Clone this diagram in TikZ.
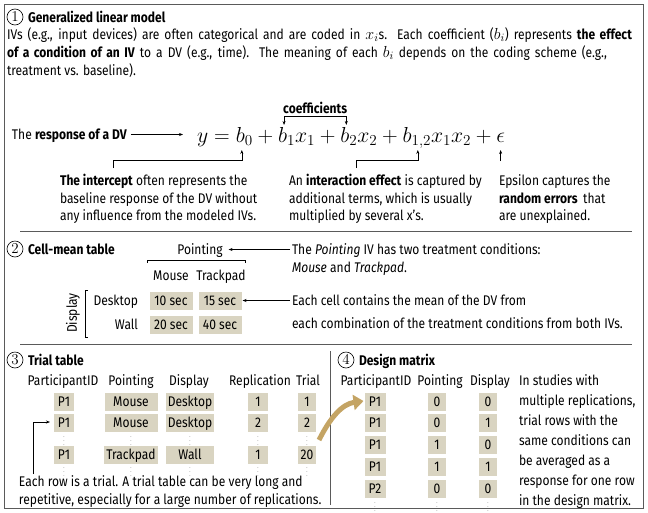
\RequirePackage{fix-cm}
\documentclass[tikz,border=0pt]{standalone}
\usepackage{fontspec}
\setmainfont{Fira Sans}[FakeStretch=0.86]
\usetikzlibrary{arrows.meta,calc}
\definecolor{cellfill}{RGB}{217,212,193}
\definecolor{gold}{RGB}{196,164,100}
\definecolor{frame}{RGB}{90,90,90}
\begin{document}
\begin{tikzpicture}[x=1pt,y=-1pt,
  every node/.style={inner sep=0pt,outer sep=0pt},
  fnt/.style={font=\fontsize{14}{16}\selectfont},
  txt/.style={anchor=base west,fnt},
  ctxt/.style={anchor=base,fnt},
  rtxt/.style={anchor=base east,fnt},
  title/.style={anchor=base west,font=\fontsize{14}{16}\selectfont\bfseries},
  num/.style={draw,circle,line width=0.6pt,minimum size=16pt,font=\fontsize{15}{15}\selectfont},
  cell/.style={fill=cellfill,anchor=base,fnt,inner xsep=2pt,inner ysep=0pt,text depth=5pt,text height=13pt},
  vd/.style={anchor=center,font=\fontsize{6}{6}\selectfont,text=gray},
  eqp/.style={anchor=base west,font=\fontsize{21.7}{21.7}\selectfont},
  conn/.style={line width=0.6pt,-{Stealth[length=4pt,width=3pt]}},
  plain/.style={line width=0.6pt},
  sep/.style={line width=0.8pt,frame}
]
\useasboundingbox (0,0) rectangle (648,512);
\draw[line width=0.8pt,frame] (4,4) rectangle (643,508);

% ---------- section 1
\node[num] (n1) at (15,17) {$1$};
\node[title] (t1) at (28,22) {Generalized linear model};
\node[txt] (p1) at (7,39) {\hbox to 625pt{IVs (e.g., input devices) are often categorical and are coded in {\fontsize{16}{16}\selectfont$x_i$}s. Each coefficient ({\fontsize{16}{16}\selectfont$b_i$}) represents \textbf{the effect}}};
\node[txt] (p2) at (7,57) {\hbox to 600pt{\textbf{of a condition of an IV} to a DV (e.g., time). The meaning of each {\fontsize{16}{16}\selectfont$b_i$} depends on the coding scheme (e.g.,}};
\node[txt] (p3) at (7,75) {treatment vs. baseline).};

% equation built from pieces
\node[eqp] (ey) at (197,142) {$y={}$};
\node[eqp] (eb0) at (ey.base east) {$b_0$};
\node[eqp] (eo1) at (eb0.base east) {${}+{}$};
\node[eqp] (eb1) at (eo1.base east) {$b_1$};
\node[eqp] (ex1) at (eb1.base east) {$x_1{}+{}$};
\node[eqp] (eb2) at (ex1.base east) {$b_2$};
\node[eqp] (ex2) at (eb2.base east) {$x_2{}+{}$};
\node[eqp] (eb12) at (ex2.base east) {$b_{1,2}$};
\node[eqp] (ex12) at (eb12.base east) {$x_1x_2{}+{}$};
\node[eqp] (eeps) at (ex12.base east) {$\epsilon$};

\node[txt] (resp) at (12,139) {The \textbf{response of a DV}};
\draw[conn] ([xshift=4pt,yshift=4.5pt]resp.base east) -- ([xshift=-14pt,yshift=4.5pt]resp.base east -| ey.west);

\coordinate (cb1x) at ([xshift=6pt]eb1.base west);
\coordinate (cb2x) at ([xshift=6pt]eb2.base west);
\coordinate (cb1) at (cb1x |- 0,125);
\coordinate (cb2) at (cb2x |- 0,125);
\node[anchor=base,font=\fontsize{14}{16}\selectfont\bfseries] (coef) at ($(cb1)!0.5!(cb2)+(0,-11.5)$) {coefficients};
\draw[plain] (cb1 |- 0,116) -- (cb2 |- 0,116);
\draw[conn] (cb1 |- 0,116) -- (cb1);
\draw[conn] (cb2 |- 0,116) -- (cb2);

\coordinate (tb0x) at ([xshift=6pt]eb0.base west);
\coordinate (tb12x) at ([xshift=1pt]eb12.base);
\coordinate (tepsx) at (eeps.base);
\coordinate (tb0) at (tb0x |- 0,150);
\coordinate (tb12) at (tb12x |- 0,150);
\coordinate (teps) at (tepsx |- 0,150);
\node[txt] (ic1) at (60,185) {\textbf{The intercept} often represents the};
\node[txt] (ic2) at (60,203) {baseline response of the DV without};
\node[txt] (ic3) at (60,220) {any influence from the modeled IVs.};
\draw[conn] (113,168) -- (113,160) -- (tb0 |- 0,160) -- (tb0);
\node[txt] (ie1) at (289,185) {An \textbf{interaction effect} is captured by};
\node[txt] (ie2) at (289,203) {additional terms, which is usually};
\node[txt] (ie3) at (289,220) {multiplied by several x's.};
\draw[conn] (356,168) -- (356,160) -- (tb12 |- 0,160) -- (tb12);
\node[txt] (ep1) at (499,185) {Epsilon captures the};
\node[txt] (ep2) at (499,203) {\textbf{random errors}\, that};
\node[txt] (ep3) at (499,220) {are unexplained.};
\draw[conn] (teps |- 0,161) -- (teps);

\draw[sep] (20,231) -- (632,231);

% ---------- section 2
\node[num] (n2) at (15,249) {$2$};
\node[title] (t2) at (28,254) {Cell-mean table};
\node[ctxt] (pt) at (200,254) {Pointing};
\draw[plain] (147,263) -- (147,260) -- (245,260) -- (245,263);
\node[ctxt] (mo) at (171,280) {Mouse};
\node[ctxt] (tr) at (221,280) {Trackpad};
\node[rtxt] (dk) at (138,305) {Desktop};
\node[rtxt] (wl) at (138,329) {Wall};
\node[cell,minimum width=43pt] (c11) at (171,305) {10 sec};
\node[cell,minimum width=43pt] (c12) at (220,305) {15 sec};
\node[cell,minimum width=43pt] (c21) at (171,329) {20 sec};
\node[cell,minimum width=43pt] (c22) at (220,329) {40 sec};
\draw[plain] (88,290) -- (85,290) -- (85,337) -- (88,337);
\node[anchor=center,rotate=90,fnt] (disp) at (73,313) {Display};
\node[txt] (pd1) at (292,254) {The \textit{Pointing} IV has two treatment conditions:};
\node[txt] (pd2) at (292,272) {\textit{Mouse} and \textit{Trackpad}.};
\draw[conn] ([xshift=-2pt,yshift=4.5pt]pd1.base west) -- ([xshift=6pt,yshift=4.5pt]pt.base east);
\node[txt] (cd1) at (292,305) {Each cell contains the mean of the DV from};
\node[txt] (cd2) at (292,328) {each combination of the treatment conditions from both IVs.};
\draw[conn] ([xshift=-2pt,yshift=4.5pt]cd1.base west) -- ([xshift=1pt,yshift=4.5pt]c12.base east);

\draw[sep] (20,344) -- (632,344);

% ---------- section 3
\node[num] (n3) at (15,360) {$3$};
\node[title] (t3) at (28,365) {Trial table};
\draw[sep] (330,351) -- (330,505);
\node[ctxt] (h1) at (63,385) {ParticipantID};
\node[ctxt] (h2) at (131,385) {Pointing};
\node[ctxt] (h3) at (189,385) {Display};
\node[ctxt] (h4) at (260,385) {Replication};
\node[ctxt] (h5) at (308,385) {Trial};
\foreach \r/\y/\a/\b/\c/\d/\e in {1/406/P1/Mouse/Desktop/1/1, 2/427/P1/Mouse/Desktop/2/2, 3/459/P1/Trackpad/Wall/1/20}{
  \node[cell,minimum width=20pt] (tA\r) at (64,\y) {\a};
  \node[cell,minimum width=53pt] (tB\r) at (131,\y) {\b};
  \node[cell,minimum width=48pt] (tC\r) at (190,\y) {\c};
  \node[cell,minimum width=20pt] (tD\r) at (258,\y) {\d};
  \node[cell,minimum width=18pt] (tE\r) at (307,\y) {\e};
}
\foreach \y in {438,469}{
  \foreach \x in {64,131,190,258,307}{ \node[vd] at (\x,\y) {$\vdots$}; }
}
\node[txt] (tt1) at (19,486) {Each row is a trial. A trial table can be very long and};
\node[txt] (tt2) at (19,504) {repetitive, especially for a large number of replications.};
\coordinate (tst) at (33,474);
\draw[conn] (tst) -- (33,422) -- ([xshift=-4pt,yshift=5pt]tA2.base west);

% ---------- section 4
\node[num] (n4) at (346,360) {$4$};
\node[title] (t4) at (359,365) {Design matrix};
\node[ctxt] (d1) at (376,385) {ParticipantID};
\node[ctxt] (d2) at (440,385) {Pointing};
\node[ctxt] (d3) at (490,385) {Display};
\foreach \r/\y/\a/\b/\c in {1/406/P1/0/0, 2/427/P1/0/1, 3/449/P1/1/0, 4/471/P1/1/1, 5/493/P2/0/0}{
  \node[cell,minimum width=21pt] (dA\r) at (375,\y) {\a};
  \node[cell,minimum width=18pt] (dB\r) at (437,\y) {\b};
  \node[cell,minimum width=18pt] (dC\r) at (488,\y) {\c};
}
\foreach \x in {375,437,488}{ \node[vd] at (\x,504) {$\vdots$}; }
\foreach \i/\t in {0/In studies with, 1/{multiple replications,}, 2/trial rows with the, 3/same conditions can, 4/be averaged as a, 5/response for one row, 6/in the design matrix.}{
  \node[txt] (dt\i) at (519,385+20*\i) {\t};
}
\coordinate (gs) at (319,440);
\draw[gold,line width=5pt,-{Triangle[length=10pt,width=15pt]}] (gs) .. controls (330,418) and (342,404) .. ([xshift=-1pt,yshift=5pt]dA1.base west);
\end{tikzpicture}
\end{document}
